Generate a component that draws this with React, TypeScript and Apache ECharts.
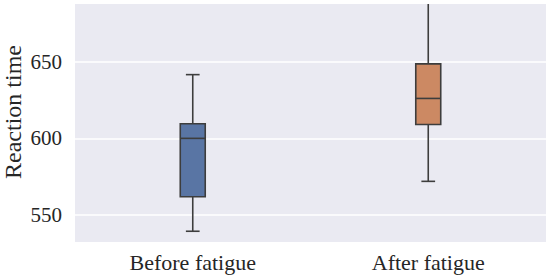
import React, { useEffect, useRef } from "react";
import * as echarts from "echarts";

const categories = ["Before fatigue", "After fatigue"];
// [min whisker, Q1, median, Q3, max whisker]
const beforeStats = [539.5, 562, 600, 609.5, 641.5];
const afterStats = [572, 609, 626, 648.5, 700];
const boxColors = ["#5975A4", "#CC8963"];
const yTicks = [550, 600, 650];
const yName = "Reaction time";

export default function App() {
  const ref = useRef<HTMLDivElement>(null);
  useEffect(() => {
    if (!ref.current) return;
    const chart = echarts.init(ref.current, undefined, { renderer: "svg" });
    const stats = [beforeStats, afterStats];
    const data = stats.map((s, i) => [i, ...s]);
    const edge = "#3D3D3D";
    const font = "'Liberation Serif', 'Times New Roman', serif";
    chart.setOption({
      animation: false,
      grid: {
        left: 75, right: 4, top: 4, bottom: 37, show: true,
        backgroundColor: "#EAEAF2", borderWidth: 0,
        outerBoundsMode: "none", containLabel: false,
      },
      graphic: [
        {
          type: "text",
          x: 13,
          y: 112,
          rotation: Math.PI / 2,
          style: {
            text: yName,
            fontFamily: font,
            fontSize: 24,
            fill: "#262626",
            align: "center",
            verticalAlign: "middle",
          },
        },
      ],
      xAxis: {
        type: "category",
        data: categories,
        axisLine: { show: false },
        axisTick: { show: false },
        axisLabel: { fontFamily: font, fontSize: 22, color: "#262626", margin: 9 },
        splitLine: { show: false },
      },
      yAxis: {
        type: "value",
        min: 532.5,
        max: 687.5,
        axisLine: { show: false },
        axisTick: { show: false, customValues: yTicks },
        axisLabel: { fontFamily: font, fontSize: 21, color: "#262626", margin: 13, customValues: yTicks },
        splitLine: { show: true, lineStyle: { color: "#FFFFFF", width: 1.5 } },
      },
      series: [
        {
          type: "custom",
          clip: true,
          encode: { x: 0, y: [1, 2, 3, 4, 5] },
          data,
          renderItem: (params: any, api: any) => {
            const idx = api.value(0);
            const vals = [1, 2, 3, 4, 5].map((k) => api.value(k));
            const pts = vals.map((v) => api.coord([idx, v]));
            const cx = pts[0][0];
            const bw = api.size([1, 0])[0] * 0.106;
            const cap = bw * 0.55;
            const lw = 1.6;
            const ls = { stroke: edge, lineWidth: lw };
            return {
              type: "group",
              children: [
                { type: "line", shape: { x1: cx, y1: pts[0][1], x2: cx, y2: pts[1][1] }, style: ls },
                { type: "line", shape: { x1: cx, y1: pts[3][1], x2: cx, y2: pts[4][1] }, style: ls },
                { type: "line", shape: { x1: cx - cap / 2, y1: pts[0][1], x2: cx + cap / 2, y2: pts[0][1] }, style: ls },
                { type: "line", shape: { x1: cx - cap / 2, y1: pts[4][1], x2: cx + cap / 2, y2: pts[4][1] }, style: ls },
                {
                  type: "rect",
                  shape: { x: cx - bw / 2, y: pts[3][1], width: bw, height: pts[1][1] - pts[3][1] },
                  style: { fill: boxColors[idx], stroke: edge, lineWidth: lw },
                },
                { type: "line", shape: { x1: cx - bw / 2, y1: pts[2][1], x2: cx + bw / 2, y2: pts[2][1] }, style: ls },
              ],
            };
          },
        },
      ],
    });
    return () => chart.dispose();
  }, []);
  return <div ref={ref} style={{ width: 550, height: 279, position: "absolute", left: 0, top: 0, background: "#fff" }} />;
}
